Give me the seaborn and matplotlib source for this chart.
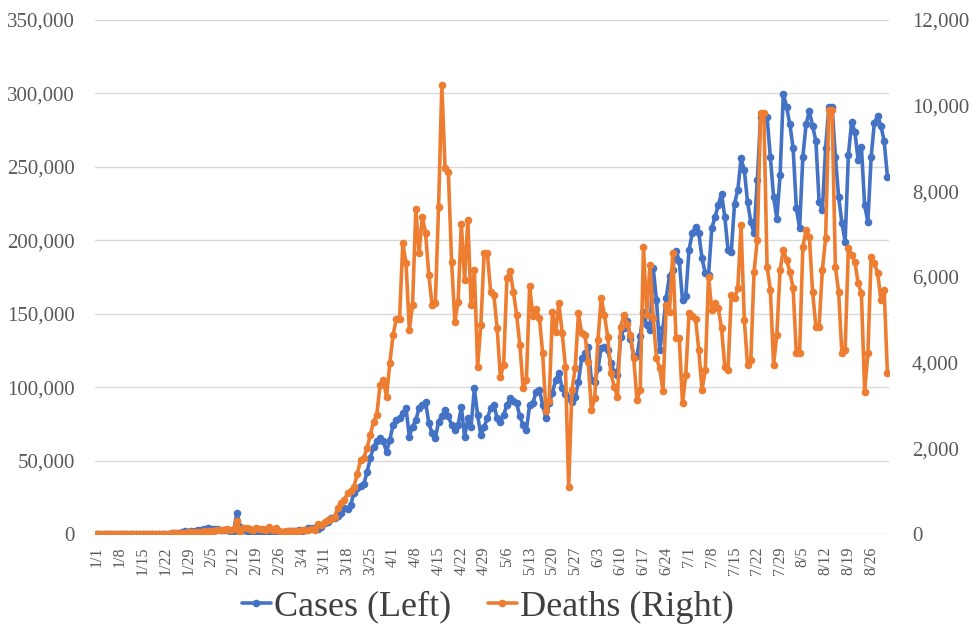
import numpy as np
import pandas as pd
import matplotlib
matplotlib.use('Agg')
import matplotlib.pyplot as plt
import seaborn as sns
from matplotlib.ticker import FuncFormatter

# --- data: daily values from 1/1 to 8/31 ---
# cases in thousands (left axis)
cases_k = [
    0, 0, 0, 0, 0, 0, 0, 0, 0, 0,
    0, 0, 0, 0, 0, 0, 0, 0, 0, 0.1,
    0.15, 0.1, 0.25, 0.45, 0.7, 0.77, 1.1, 1.7, 1.5, 2.0,
    2.1, 2.6, 2.8, 3.2, 3.9, 3.7, 3.2, 3.4, 2.7, 3.0,
    2.5, 2.0, 2.0, 14.5, 5.0, 2.6, 2.1, 2.0, 1.9, 0.5,
    0.6, 1.0, 1.0, 0.6, 0.6, 0.9, 0.9, 1.2, 1.4, 1.8,
    2.0, 1.9, 2.4, 2.3, 2.8, 3.9, 3.9, 4.0, 3.7, 4.5,
    7.5, 7.9, 10.8, 10.8, 12.5, 14.5, 17.5, 17.0, 20.0, 28.0,
    31.0, 33.0, 34.0, 42.0, 51.5, 59.5, 63.0, 65.2, 63.0, 56.0,
    64.0, 74.2, 77.6, 79.0, 82.2, 85.6, 66.3, 73.1, 77.6, 85.6,
    87.8, 90.1, 75.4, 68.6, 65.2, 76.5, 80.5, 84.4, 80.6, 74.0,
    70.8, 74.0, 86.7, 65.9, 78.8, 73.1, 99.2, 81.0, 67.1, 73.0,
    78.8, 85.6, 88.0, 78.8, 76.5, 81.0, 87.8, 92.4, 90.5, 89.0,
    80.0, 74.2, 70.8, 88.0, 89.0, 96.9, 98.0, 88.0, 78.8, 89.0,
    96.0, 105.0, 109.4, 99.2, 95.0, 92.4, 90.1, 93.0, 103.7, 119.6,
    123.0, 127.5, 104.8, 103.7, 112.8, 126.4, 127.5, 125.2, 116.1, 110.4,
    108.2, 134.0, 140.0, 145.0, 133.0, 121.0, 121.0, 135.0, 151.0, 142.0,
    139.0, 181.0, 159.0, 125.0, 140.0, 161.0, 176.0, 180.0, 193.0, 186.0,
    159.0, 162.0, 193.4, 204.7, 209.3, 205.0, 187.7, 177.5, 176.3, 208.2,
    215.9, 223.8, 231.8, 215.9, 193.3, 192.2, 225.0, 234.1, 255.7, 247.8,
    226.1, 212.5, 204.7, 241.0, 284.0, 282.0, 284.0, 257.0, 229.6, 214.8,
    244.4, 299.9, 290.8, 279.0, 263.0, 222.0, 208.2, 256.9, 279.0, 288.1,
    277.9, 267.7, 226.1, 220.5, 263.0, 290.8, 290.8, 256.9, 229.6, 212.0,
    199.0, 258.0, 280.7, 273.9, 254.6, 263.7, 223.8, 212.5, 256.9, 280.2,
    284.7, 277.9, 267.7, 243.3,
]

# deaths (right axis)
deaths = [
    0, 0, 0, 0, 0, 0, 0, 0, 0, 0,
    0, 0, 0, 0, 0, 0, 0, 0, 0, 0,
    3, 9, 8, 16, 15, 24, 26, 26, 38, 43,
    46, 45, 57, 64, 66, 73, 73, 86, 89, 97,
    108, 97, 120, 300, 20, 140, 140, 105, 100, 135,
    115, 125, 100, 160, 100, 150, 70, 50, 60, 70,
    60, 70, 75, 85, 90, 100, 105, 100, 230, 200,
    280, 330, 350, 400, 600, 720, 800, 950, 1000, 1105,
    1400, 1728, 1780, 2000, 2312, 2622, 2779, 3479, 3596, 3206,
    3986, 4647, 5013, 5020, 6787, 6320, 4763, 5347, 7582, 6554,
    7410, 7021, 6047, 5347, 5385, 7643, 10484, 8540, 8460, 6360,
    4960, 5420, 7240, 5930, 7330, 5350, 6160, 3910, 4880, 6550,
    6550, 5660, 5580, 4800, 3670, 3950, 5970, 6130, 5660, 5110,
    4410, 3400, 3600, 5780, 5090, 5250, 5050, 4220, 2860, 3100,
    5190, 4720, 5390, 4690, 3910, 1105, 3362, 3870, 5153, 4686,
    4647, 4024, 2895, 3168, 4530, 5503, 5114, 4608, 3752, 3440,
    3207, 4841, 5114, 4900, 4647, 4102, 3129, 3362, 6710, 5114,
    6281, 5040, 4100, 3868, 3330, 5347, 5190, 6554, 4569, 4569,
    3050, 3710, 5150, 5080, 5030, 4300, 3360, 3830, 6010, 5230,
    5385, 5270, 4800, 3907, 3830, 5580, 5500, 5737, 7215, 4996,
    3946, 4063, 6125, 6866, 9823, 9823, 6242, 5700, 3946, 4650,
    6164, 6632, 6400, 6125, 5737, 4218, 4218, 6710, 7100, 6943,
    5650, 4840, 4840, 6164, 6900, 9900, 9900, 6242, 5650, 4218,
    4300, 6670, 6520, 6360, 5850, 5620, 3324, 4218, 6476, 6320,
    6087, 5464, 5700, 3750,
]

start_date = '2020-01-01'
tick_step = 7
left_ticks = [0, 50000, 100000, 150000, 200000, 250000, 300000, 350000]
right_ticks = [0, 2000, 4000, 6000, 8000, 10000, 12000]

dates = pd.date_range(start_date, periods=len(cases_k), freq='D')
day_labels = [f'{d.month}/{d.day}' for d in dates]

df = pd.DataFrame({
    'day': np.arange(len(cases_k)),
    'cases': np.array(cases_k) * 1000,
    'deaths': deaths,
})

# --- style ---
sns.set_style('white')
plt.rcParams['font.family'] = ['Liberation Serif', 'DejaVu Serif']

BLUE = '#4472C4'
ORANGE = '#ED7D31'
TEXT = '#595959'

fig = plt.figure(figsize=(9.76, 6.35), dpi=100)
ax = fig.add_axes([0.0978, 0.1591, 0.8131, 0.8094])
ax2 = ax.twinx()

sns.lineplot(data=df, x='day', y='cases', ax=ax, color=BLUE, linewidth=2.6,
             marker='o', markersize=5.5, markeredgewidth=0, label='Cases (Left)', legend=False)
sns.lineplot(data=df, x='day', y='deaths', ax=ax2, color=ORANGE, linewidth=2.6,
             marker='o', markersize=5.5, markeredgewidth=0, label='Deaths (Right)', legend=False)

# axes limits and ticks
ax.set_xlim(-0.5, len(cases_k) - 0.5)
ax.set_ylim(left_ticks[0], left_ticks[-1])
ax2.set_ylim(right_ticks[0], right_ticks[-1])

tick_pos = list(range(0, len(day_labels), tick_step))
ax.set_xticks(tick_pos)
ax.set_xticklabels([day_labels[i] for i in tick_pos], rotation=90, fontsize=11.5, color=TEXT)
ax.set_yticks(left_ticks)
ax2.set_yticks(right_ticks)

fmt = FuncFormatter(lambda v, p: f'{v:,.0f}')
ax.yaxis.set_major_formatter(fmt)
ax2.yaxis.set_major_formatter(fmt)

ax.tick_params(axis='y', length=0, pad=15, labelsize=15, labelcolor=TEXT)
ax2.tick_params(axis='y', length=0, pad=16.5, labelsize=15, labelcolor=TEXT)
ax.tick_params(axis='x', length=0, pad=9)

ax.set_xlabel('')
ax.set_ylabel('')
ax2.set_ylabel('')

ax.yaxis.grid(True, color='#D9D9D9', linewidth=1)
ax.xaxis.grid(False)
ax2.grid(False)
for a in (ax, ax2):
    for s in a.spines.values():
        s.set_visible(False)

# legend below the plot
handles = ax.get_lines()[:1] + ax2.get_lines()[:1]
labels = ['Cases (Left)', 'Deaths (Right)']
leg = fig.legend(handles, labels, loc='center', bbox_to_anchor=(0.5, 0.044), ncol=2,
                 frameon=False, fontsize=26, handlelength=0.8, handletextpad=0.1,
                 columnspacing=1.0, numpoints=1)
for t in leg.get_texts():
    t.set_color('#404040')

fig.savefig('out.png', dpi=100)
